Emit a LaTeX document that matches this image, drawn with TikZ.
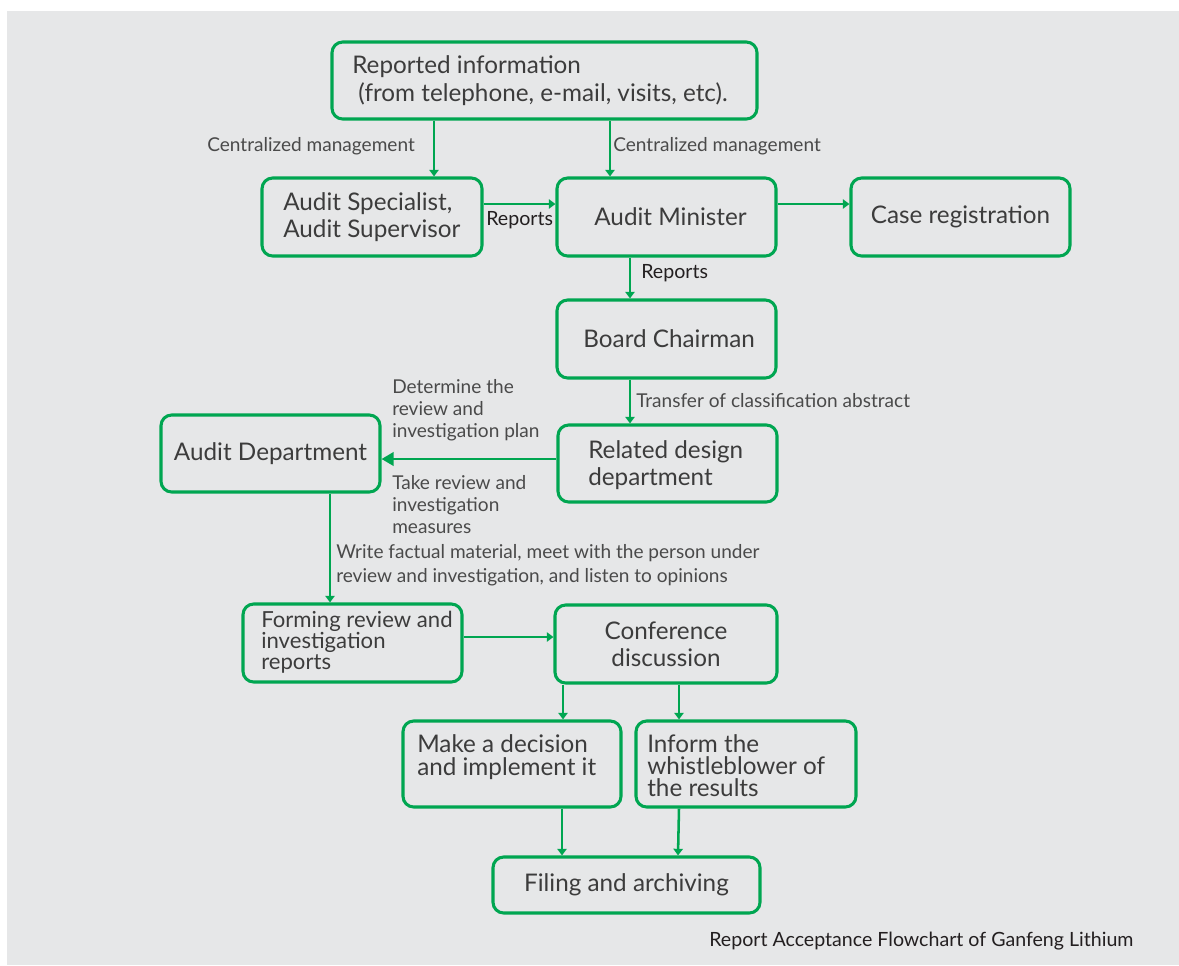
\documentclass[tikz,border=0pt]{standalone}
\usepackage{fontspec}
\setmainfont{Lato}
\usetikzlibrary{arrows.meta,positioning,calc}
\definecolor{bggray}{HTML}{E6E7E8}
\definecolor{gr}{HTML}{00A651}
\definecolor{txt}{HTML}{3C3C3C}
\definecolor{lbl}{HTML}{4A4A4A}
\definecolor{dark}{HTML}{231F20}
\begin{document}
\begin{tikzpicture}[x=0.75pt,y=-0.75pt,
  box/.style={draw=gr, line width=2.3pt, rounded corners=8pt, text=txt,
    font=\fontsize{18.2}{20.25}\selectfont, inner sep=0pt, align=center},
  btxt/.style={text=txt, align=left, anchor=west, inner sep=0pt},
  lab/.style={text=lbl, font=\fontsize{14.3}{16.5}\selectfont, inner sep=0pt, align=left},
  darklab/.style={text=dark, font=\fontsize{14.7}{16}\selectfont, inner sep=0pt, align=left},
  arr/.style={draw=gr, line width=1.9pt, -{Triangle[width=7pt,length=5pt]}},
  bigarr/.style={draw=gr, line width=1.9pt, -{Triangle[width=10pt,length=9pt]}}
]
\useasboundingbox (0,0) rectangle (1179,965);
\fill[white] (0,0) rectangle (1179,965);
\fill[bggray] (7,11) rectangle (1179,965);

% boxes
\node[box, minimum width=425*0.75pt, minimum height=77*0.75pt] (rep) at (544.5,80.5) {};
\node[btxt, font=\fontsize{18.2}{21}\selectfont] (reptxt) at (352,81) {Reported information\\ \ (from telephone, e-mail, visits, etc).};

\node[box, minimum width=220*0.75pt, minimum height=78*0.75pt] (spec) at (372,217) {};
\node[btxt, font=\fontsize{18.2}{20.25}\selectfont] (spectxt) at (283,217) {Audit Specialist,\\Audit Supervisor};

\node[box, minimum width=219*0.75pt, minimum height=78*0.75pt] (mini) at (666.5,217) {\hspace*{6pt}Audit Minister};
\node[box, minimum width=219*0.75pt, minimum height=78*0.75pt] (case) at (960.5,217) {Case registration};
\node[box, minimum width=219*0.75pt, minimum height=78*0.75pt] (board) at (666.5,339) {\hspace*{4pt}Board Chairman};

\node[box, minimum width=219*0.75pt, minimum height=77*0.75pt] (rel) at (667.5,463.5) {};
\node[btxt, font=\fontsize{18.2}{20.25}\selectfont] (reltxt) at (588,465) {Related design\\department};

\node[box, minimum width=219*0.75pt, minimum height=77*0.75pt] (aud) at (270.5,453.5) {Audit Department};

\node[box, minimum width=219*0.75pt, minimum height=78*0.75pt] (form) at (352.5,643) {};
\node[btxt, font=\fontsize{16.6}{15.8}\selectfont] (formtxt) at (261,642) {Forming review and\\investigation\\reports};

\node[box, minimum width=222*0.75pt, minimum height=78*0.75pt] (conf) at (666,644) {Conference\\discussion};

\node[box, minimum width=218*0.75pt, minimum height=86*0.75pt] (dec) at (512,764) {};
\node[btxt, font=\fontsize{18.2}{17}\selectfont] (dectxt) at (417,757) {Make a decision\\and implement it};

\node[box, minimum width=220*0.75pt, minimum height=86*0.75pt] (inf) at (746,764) {};
\node[btxt, font=\fontsize{18.2}{16.5}\selectfont] (inftxt) at (647,766) {Inform the\\whistleblower of\\the results};

\node[box, minimum width=267*0.75pt, minimum height=56*0.75pt] (fil) at (626.5,885) {Filing and archiving};

% connectors
\draw[arr] (434,0 |- rep.south) -- (434,0 |- spec.north);
\draw[arr] (610,0 |- rep.south) -- (610,0 |- mini.north);
\draw[arr] (spec.east |- 0,204) -- (mini.west |- 0,204);
\draw[arr] (mini.east |- 0,204) -- (case.west |- 0,204);
\draw[arr] (630,0 |- mini.south) -- (630,0 |- board.north);
\draw[arr] (630,0 |- board.south) -- (630,0 |- rel.north);
\draw[bigarr] (rel.west |- 0,459) -- (aud.east |- 0,459);
\draw[arr] (330,0 |- aud.south) -- (330,0 |- form.north);
\draw[arr] (form.east |- 0,637) -- (conf.west |- 0,637);
\draw[arr] (563,0 |- conf.south) -- (563,0 |- dec.north);
\draw[arr] (679,0 |- conf.south) -- (679,0 |- inf.north);
\draw[arr] (562,0 |- dec.south) -- (562,0 |- fil.north);
\draw[arr] (679,0 |- inf.south) -- (678,0 |- fil.north);

% labels
\node[lab, anchor=mid west] (cm1) at (207,148) {Centralized management};
\node[lab, anchor=mid west] (cm2) at (613,148) {Centralized management};
\node[darklab, anchor=mid west] (r1) at (486,222) {Reports};
\node[darklab, anchor=mid west] (r2) at (641,275) {Reports};
\node[lab, anchor=mid west] (tr) at (636,404) {Transfer of classification abstract};
\node[lab, anchor=west] (det) at (392,410) {Determine the\\review and\\investigation plan};
\node[lab, anchor=west] (take) at (392,505) {Take review and\\investigation\\measures};
\node[lab, anchor=west, font=\fontsize{14.3}{18}\selectfont] (wr) at (336,565) {Write factual material, meet with the person under\\review and investigation, and listen to opinions};
\node[darklab, anchor=mid west] (cap) at (709,943) {Report Acceptance Flowchart of Ganfeng Lithium};
\end{tikzpicture}
\end{document}
